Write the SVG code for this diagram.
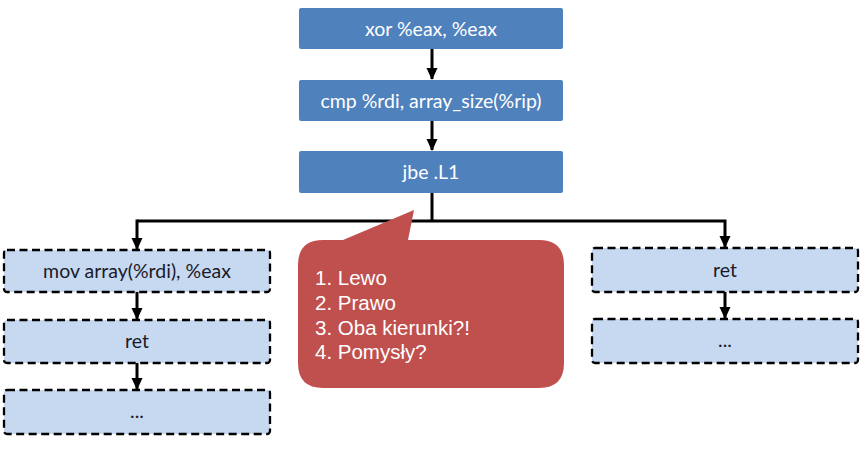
<svg xmlns="http://www.w3.org/2000/svg" width="866" height="456" viewBox="0 0 866 456">
<style>
.top{fill:#4F81BD;}
.sub{fill:#C6D9F1;stroke:#000;stroke-width:2.3;stroke-dasharray:8,4.5;}
.tw{font-family:Lato,"Liberation Sans",sans-serif;font-size:19.5px;fill:#fff;text-anchor:middle;}
.tb{font-family:Lato,"Liberation Sans",sans-serif;font-size:19.5px;fill:#1a1a2a;text-anchor:middle;}
.conn{fill:none;stroke:#000;stroke-width:3;}
.ct{font-family:"Liberation Sans",Arial,sans-serif;font-size:20.5px;fill:#fff;}
</style>
<defs>
<marker id="ah" markerWidth="12" markerHeight="12" refX="11" refY="6" orient="auto" markerUnits="userSpaceOnUse">
<path d="M0,0.5 L12,6 L0,11.5 Z" fill="#000"/>
</marker>
</defs>
<g id="connectors">
<line class="conn" x1="432" y1="49" x2="432" y2="79" marker-end="url(#ah)"/>
<line class="conn" x1="432" y1="121" x2="432" y2="150" marker-end="url(#ah)"/>
<line class="conn" x1="432" y1="193" x2="432" y2="221"/>
<polyline class="conn" points="137,221 725,221 725,247" marker-end="url(#ah)"/>
<line class="conn" x1="137" y1="219.5" x2="137" y2="249" marker-end="url(#ah)"/>
<line class="conn" x1="137" y1="292" x2="137" y2="319" marker-end="url(#ah)"/>
<line class="conn" x1="137" y1="363" x2="137" y2="389" marker-end="url(#ah)"/>
<line class="conn" x1="725" y1="292" x2="725" y2="318" marker-end="url(#ah)"/>
</g>
<g id="n1"><rect class="top" x="299" y="8" width="264" height="41" rx="2"/><text class="tw" x="431" y="35.5">xor %eax, %eax</text></g>
<g id="n2"><rect class="top" x="299" y="80" width="264" height="41" rx="2"/><text class="tw" x="431" y="107.5">cmp %rdi, array_size(%rip)</text></g>
<g id="n3"><rect class="top" x="299" y="151" width="264" height="42" rx="2"/><text class="tw" x="431" y="178.5">jbe .L1</text></g>
<g id="l1"><rect class="sub" x="4" y="250" width="266" height="42" rx="3"/><text class="tb" x="137" y="277.5">mov array(%rdi), %eax</text></g>
<g id="l2"><rect class="sub" x="4" y="320" width="266" height="43" rx="3"/><text class="tb" x="137" y="348">ret</text></g>
<g id="l3"><rect class="sub" x="4" y="390" width="266" height="44" rx="3"/><text class="tb" x="137" y="418">...</text></g>
<g id="r1"><rect class="sub" x="592" y="248" width="266" height="44" rx="3"/><text class="tb" x="725" y="277">ret</text></g>
<g id="r2"><rect class="sub" x="592" y="319" width="266" height="44" rx="3"/><text class="tb" x="725" y="347">...</text></g>
<g id="callout">
<path d="M323,240 L343,240 L414,210 L408,240 L539,240 Q564,240 564,265 L564,363 Q564,388 539,388 L323,388 Q298,388 298,363 L298,265 Q298,240 323,240 Z" fill="#C0504D"/>
<text class="ct" x="315" y="285">1. Lewo</text>
<text class="ct" x="315" y="310">2. Prawo</text>
<text class="ct" x="315" y="335">3. Oba kierunki?!</text>
<text class="ct" x="315" y="359">4. Pomysły?</text>
</g>
</svg>
